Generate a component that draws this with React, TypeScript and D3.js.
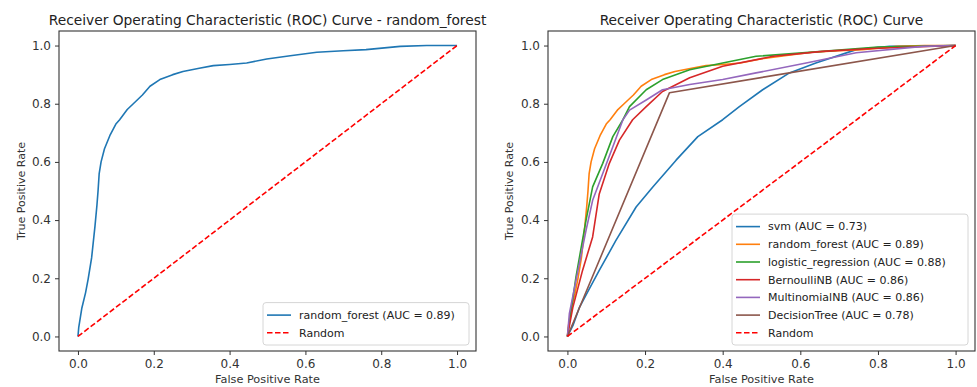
import * as d3 from "d3";
import {useEffect, useRef} from "react";

// ROC points: [false positive rate, true positive rate]
const randomForestRoc: [number, number][] = [
	[0, 0], [0.002, 0.03], [0.01, 0.096], [0.02, 0.15], [0.027, 0.198], [0.036, 0.27],
	[0.045, 0.38], [0.05, 0.45], [0.053, 0.5], [0.056, 0.56], [0.061, 0.6], [0.07, 0.645],
	[0.084, 0.69], [0.1, 0.73], [0.11, 0.745], [0.13, 0.78], [0.146, 0.8], [0.17, 0.83],
	[0.19, 0.86], [0.216, 0.883], [0.25, 0.9], [0.277, 0.911], [0.32, 0.922], [0.357, 0.931],
	[0.4, 0.935], [0.445, 0.94], [0.498, 0.954], [0.56, 0.965], [0.63, 0.977], [0.7, 0.982],
	[0.76, 0.986], [0.85, 0.997], [0.92, 1], [1, 1],
];
const svmRoc: [number, number][] = [
	[0, 0], [0.015, 0.04], [0.031, 0.1], [0.055, 0.16], [0.082, 0.227], [0.125, 0.33],
	[0.177, 0.445], [0.22, 0.514], [0.28, 0.606], [0.336, 0.687], [0.4, 0.745], [0.443, 0.79],
	[0.503, 0.848], [0.572, 0.906], [0.64, 0.94], [0.744, 0.986], [0.83, 0.997], [1, 1],
];
const logisticRoc: [number, number][] = [
	[0, 0], [0.022, 0.204], [0.048, 0.4], [0.065, 0.514], [0.091, 0.595], [0.117, 0.687],
	[0.143, 0.745], [0.16, 0.79], [0.203, 0.848], [0.245, 0.883], [0.315, 0.917], [0.4, 0.94],
	[0.486, 0.963], [0.657, 0.98], [0.8, 0.995], [1, 1],
];
const bernoulliRoc: [number, number][] = [
	[0, 0], [0.014, 0.1], [0.039, 0.227], [0.065, 0.342], [0.082, 0.49], [0.108, 0.595],
	[0.134, 0.675], [0.168, 0.745], [0.203, 0.79], [0.245, 0.842], [0.315, 0.889],
	[0.4, 0.929], [0.53, 0.963], [0.657, 0.98], [0.786, 0.99], [1, 1],
];
const multinomialRoc: [number, number][] = [
	[0, 0], [0.005, 0.078], [0.022, 0.192], [0.048, 0.365], [0.065, 0.468], [0.091, 0.56],
	[0.117, 0.652], [0.143, 0.745], [0.16, 0.778], [0.203, 0.813], [0.245, 0.848], [0.315, 0.866],
	[0.4, 0.883], [0.486, 0.906], [0.615, 0.94], [0.744, 0.975], [0.916, 0.997], [1, 1],
];
const decisionTreeRoc: [number, number][] = [
	[0, 0], [0.263, 0.838], [1, 1],
];
const randomLine: [number, number][] = [[0, 0], [1, 1]];

const tickValues = [0, 0.2, 0.4, 0.6, 0.8, 1.0];

const leftSeries = [
	{label: "random_forest (AUC = 0.89)", color: "#1f77b4", data: randomForestRoc},
];
const rightSeries = [
	{label: "svm (AUC = 0.73)", color: "#1f77b4", data: svmRoc},
	{label: "random_forest (AUC = 0.89)", color: "#ff7f0e", data: randomForestRoc},
	{label: "logistic_regression (AUC = 0.88)", color: "#2ca02c", data: logisticRoc},
	{label: "BernoulliNB (AUC = 0.86)", color: "#d62728", data: bernoulliRoc},
	{label: "MultinomialNB (AUC = 0.86)", color: "#9467bd", data: multinomialRoc},
	{label: "DecisionTree (AUC = 0.78)", color: "#8c564b", data: decisionTreeRoc},
];

const font = "DejaVu Sans";

function drawPanel(svg, opts) {
	const {x0, x1, y0, y1, title, series, legendW, yLabelX} = opts;
	const x = d3.scaleLinear().domain([-0.05, 1.05]).range([x0, x1]);
	const y = d3.scaleLinear().domain([-0.05, 1.05]).range([y1, y0]);
	const g = svg.append("g");

	const line = d3.line().x((d) => x(d[0])).y((d) => y(d[1]));

	series.forEach((s) => {
		g.append("path")
			.attr("d", line(s.data))
			.attr("fill", "none")
			.attr("stroke", s.color)
			.attr("stroke-width", 1.6)
			.attr("stroke-linejoin", "round");
	});
	g.append("path")
		.attr("d", line(randomLine))
		.attr("fill", "none")
		.attr("stroke", "#ff0000")
		.attr("stroke-width", 1.6)
		.attr("stroke-dasharray", "5.5,2.5");

	// frame
	g.append("rect")
		.attr("x", x0).attr("y", y0)
		.attr("width", x1 - x0).attr("height", y1 - y0)
		.attr("fill", "none").attr("stroke", "#333").attr("stroke-width", 1.1);

	const xAxis = g.append("g")
		.attr("transform", `translate(0,${y1})`)
		.call(d3.axisBottom(x).tickValues(tickValues).tickFormat(d3.format(".1f")).tickSize(4).tickPadding(4));
	const yAxis = g.append("g")
		.attr("transform", `translate(${x0},0)`)
		.call(d3.axisLeft(y).tickValues(tickValues).tickFormat(d3.format(".1f")).tickSize(4).tickPadding(4));
	[xAxis, yAxis].forEach((a) => {
		a.select(".domain").remove();
		a.selectAll("line").attr("stroke", "#333");
		a.selectAll("text").attr("font-family", font).attr("font-size", 12).attr("fill", "#333");
	});

	g.append("text")
		.attr("x", (x0 + x1) / 2).attr("y", 25)
		.attr("text-anchor", "middle")
		.attr("font-family", font).attr("font-size", 13.8).attr("fill", "#222")
		.text(title);
	g.append("text")
		.attr("x", (x0 + x1) / 2).attr("y", 383)
		.attr("text-anchor", "middle")
		.attr("font-family", font).attr("font-size", 11.3).attr("fill", "#333")
		.text("False Positive Rate");
	g.append("text")
		.attr("transform", `translate(${yLabelX},${(y0 + y1) / 2}) rotate(-90)`)
		.attr("text-anchor", "middle")
		.attr("font-family", font).attr("font-size", 11).attr("fill", "#333")
		.text("True Positive Rate");

	// legend
	const items = [...series.map((s) => ({...s, dash: null})), {label: "Random", color: "#ff0000", dash: "5.5,2.5"}];
	const rowH = 17.7;
	const legendH = items.length * rowH + 7;
	const lx = x1 - 7 - legendW;
	const ly = y1 - 6 - legendH;
	const leg = g.append("g").attr("transform", `translate(${lx},${ly})`);
	leg.append("rect")
		.attr("width", legendW).attr("height", legendH).attr("rx", 3)
		.attr("fill", "#fff").attr("fill-opacity", 0.8)
		.attr("stroke", "#d6d6d6");
	const rows = leg.selectAll("g.row").data(items).join("g")
		.attr("transform", (_, i) => `translate(0,${12.5 + i * rowH})`);
	rows.append("line")
		.attr("x1", 4).attr("x2", 28)
		.attr("stroke", (d) => d.color).attr("stroke-width", 1.6)
		.attr("stroke-dasharray", (d) => d.dash);
	rows.append("text")
		.attr("x", 36).attr("dy", "0.35em")
		.attr("font-family", font).attr("font-size", 11).attr("fill", "#222")
		.text((d) => d.label);
}

const App = () => {
	const svgRef = useRef(null);

	useEffect(() => {
		const svg = d3.select(svgRef.current);
		svg.selectAll("*").remove();
		drawPanel(svg, {
			x0: 59, x1: 476, y0: 31, y1: 351,
			title: "Receiver Operating Characteristic (ROC) Curve - random_forest",
			series: leftSeries, legendW: 206, yLabelX: 25,
		});
		drawPanel(svg, {
			x0: 548, x1: 975, y0: 31, y1: 351,
			title: "Receiver Operating Characteristic (ROC) Curve",
			series: rightSeries, legendW: 236, yLabelX: 513,
		});
	}, []);

	return (
		<div style={{position: "fixed", left: 0, top: 0, width: 977, height: 387, background: "#fff"}}>
			<svg ref={svgRef} width={977} height={387}></svg>
		</div>
	);
};

export default App;
